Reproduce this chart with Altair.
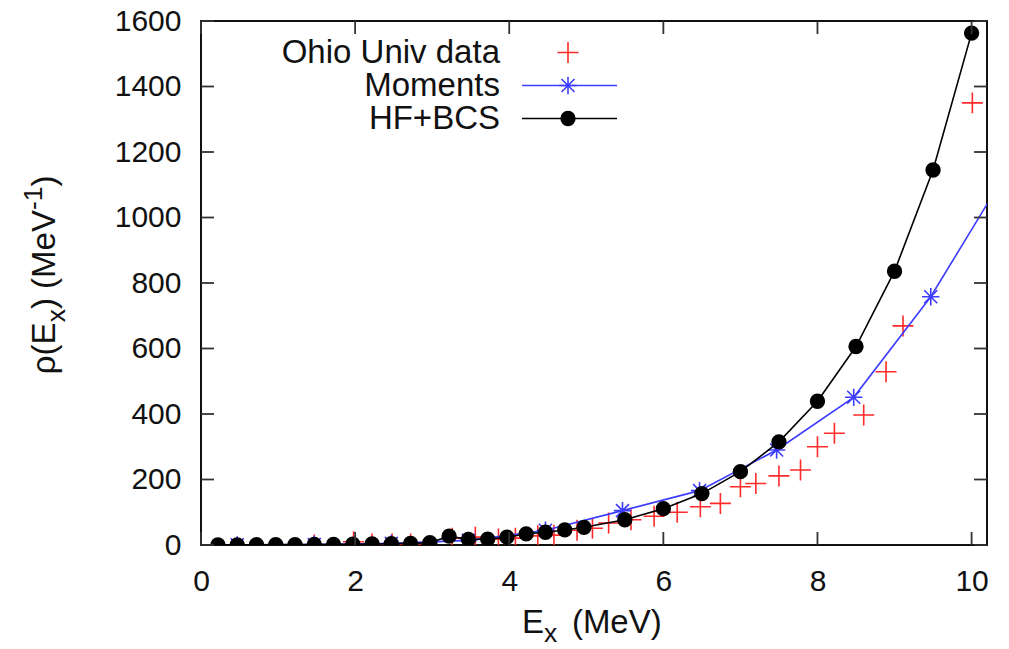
import altair as alt
import pandas as pd

# ---------------- data ----------------
hf_x = [0.22, 0.47, 0.72, 0.97, 1.22, 1.47, 1.72, 1.97, 2.22, 2.47, 2.72, 2.97,
        3.22, 3.47, 3.72, 3.97, 4.22, 4.47, 4.72, 4.97,
        5.5, 6.0, 6.5, 7.0, 7.5, 8.0, 8.5, 9.0, 9.5, 10.0]
hf_y = [0.3, 0.5, 0.7, 1, 1.2, 1.5, 2, 2.5, 3, 4, 5, 7,
        27, 17, 18, 24, 34, 39, 46, 54,
        77, 111, 157, 224, 315, 439, 606, 836, 1145, 1563]

mom_x = [0.47, 1.47, 2.47, 3.47, 4.47, 5.47, 6.47, 7.47, 8.47, 9.47, 10.47]
mom_y = [0.5, 1.5, 5, 14, 45, 105, 166, 290, 451, 758, 1145]

ohio_x = [1.47, 1.98, 2.22, 2.48, 2.72, 3.26, 3.56, 3.86, 4.08, 4.37, 4.58, 4.88,
          5.08, 5.29, 5.58, 5.88, 6.18, 6.48, 6.74, 7.0, 7.2, 7.5, 7.78, 8.0,
          8.22, 8.6, 8.89, 9.11, 10.01]
ohio_y = [0, 10, 3, 3, 3, 21, 24, 18, 21, 28, 30, 45,
          51, 67, 77, 88, 100, 117, 127, 178, 188, 211, 229, 300,
          341, 397, 529, 669, 1350]

x_ticks = [0, 2, 4, 6, 8, 10]
y_ticks = [0, 200, 400, 600, 800, 1000, 1200, 1400, 1600]

legend_names = ["Ohio Univ data", "Moments", "HF+BCS"]

# axis titles in gnuplot "enhanced text" pieces: (text, kind) kind: n=normal, sub, sup
NB = "\u00a0"
xtitle_parts = [("E", "n"), ("x", "sub"), (" (MeV)", "n")]
ytitle_parts = [("ρ(E", "n"), ("x", "sub"), (")" + NB + "(MeV", "n"), ("-1", "sup"), (")", "n")]

# ---------------- styling ----------------
W, H = 786, 524
FONT = "Liberation Sans"
FS = 30
FS_LEG = 33
FT = 33            # title font size
FSUB = 0.8 * FT    # sub/superscript size
RED = "#ff2a2a"
BLUE = "#3c3cff"
BLACK = "#000000"
TXT = "#111111"
PLUS = "M-1,0L1,0M0,-1L0,1"
STAR = "M-1,0L1,0M0,-1L0,1M-0.75,-0.75L0.75,0.75M-0.75,0.75L0.75,-0.75"

# approximate advance widths (em) of Liberation Sans glyphs, for laying out title pieces
ADV = {"ρ": 0.578, "(": 0.333, ")": 0.333, "E": 0.667, "x": 0.5, " ": 0.278, NB: 0.278,
       "M": 0.833, "e": 0.556, "V": 0.667, "-": 0.333, "1": 0.556}


def text_width(s, size):
    return sum(ADV.get(c, 0.556) for c in s) * size


xs = alt.Scale(domain=[0, 10.2], nice=False, zero=False)
ys = alt.Scale(domain=[0, 1600], nice=False)

hf = pd.DataFrame({"x": hf_x, "y": hf_y})
mom = pd.DataFrame({"x": mom_x, "y": mom_y})
ohio = pd.DataFrame({"x": ohio_x, "y": ohio_y})

xaxis = alt.Axis(values=x_ticks, format="d", title=None, grid=False, ticks=False, tickSize=0,
                 domain=False, labelPadding=21, labelFlush=False)
yaxis = alt.Axis(values=y_ticks, format="d", title=None, grid=False, ticks=False, tickSize=0,
                 domain=False, labelPadding=20)

ohio_pts = alt.Chart(ohio).mark_point(shape=PLUS, size=440, strokeWidth=1.6, color=RED,
                                      opacity=1, clip=True).encode(
    x=alt.X("x:Q", scale=xs, axis=xaxis),
    y=alt.Y("y:Q", scale=ys, axis=yaxis),
)

mom_line = alt.Chart(mom).mark_line(color=BLUE, strokeWidth=1.6, clip=True).encode(
    x=alt.X("x:Q", scale=xs), y=alt.Y("y:Q", scale=ys))
mom_pts = alt.Chart(mom).mark_point(shape=STAR, size=300, strokeWidth=1.6, color=BLUE,
                                    opacity=1, clip=True).encode(
    x=alt.X("x:Q", scale=xs), y=alt.Y("y:Q", scale=ys))

hf_line = alt.Chart(hf).mark_line(color=BLACK, strokeWidth=1.6, clip=True).encode(
    x=alt.X("x:Q", scale=xs), y=alt.Y("y:Q", scale=ys))
hf_pts = alt.Chart(hf).mark_circle(size=235, color=BLACK, opacity=1, clip=True).encode(
    x=alt.X("x:Q", scale=xs), y=alt.Y("y:Q", scale=ys))

# inward ticks (gnuplot style, mirrored)
ydf = pd.DataFrame({"v": y_ticks})
xdf = pd.DataFrame({"v": x_ticks})
TL = 13
yt_l = alt.Chart(ydf).mark_rule(color="#333333", strokeWidth=1.8).encode(
    y=alt.Y("v:Q", scale=ys), x=alt.value(0), x2=alt.value(TL))
yt_r = alt.Chart(ydf).mark_rule(color="#333333", strokeWidth=1.8).encode(
    y=alt.Y("v:Q", scale=ys), x=alt.value(W - TL), x2=alt.value(W))
xt_b = alt.Chart(xdf).mark_rule(color="#333333", strokeWidth=1.8).encode(
    x=alt.X("v:Q", scale=xs), y=alt.value(H - TL), y2=alt.value(H))
xt_t = alt.Chart(xdf).mark_rule(color="#333333", strokeWidth=1.8).encode(
    x=alt.X("v:Q", scale=xs), y=alt.value(0), y2=alt.value(TL))

one = pd.DataFrame({"k": [0]})


def split_lead(s):
    """leading blanks are collapsed by SVG: turn them into an advance instead"""
    stripped = s.lstrip(" " + NB)
    return s[:len(s) - len(stripped)], stripped


# ---- axis titles built from pieces (sub/superscripts) ----
titles = []
xt_x, xt_base = 321, 612
cur = xt_x
for s, kind in xtitle_parts:
    size = FT if kind == "n" else FSUB
    lead, body = split_lead(s)
    cur += text_width(lead, size) * 1.6
    dy = 0 if kind == "n" else (0.27 * FT if kind == "sub" else -0.4 * FT)
    titles.append(alt.Chart(one).mark_text(text=body, align="left", baseline="alphabetic",
                                           font=FONT, fontSize=size, color=TXT).encode(
        x=alt.value(cur), y=alt.value(xt_base + dy)))
    cur += text_width(body, size)

yt_base = -146
total = sum(text_width(s, FT if k == "n" else FSUB) for s, k in ytitle_parts)
cur = 262 + total / 2 - 8
for s, kind in ytitle_parts:
    size = FT if kind == "n" else FSUB
    dx = 0 if kind == "n" else (0.3 * FT if kind == "sub" else -0.4 * FT)
    titles.append(alt.Chart(one).mark_text(text=s, align="left", baseline="alphabetic",
                                           angle=270, font=FONT, fontSize=size, color=TXT).encode(
        x=alt.value(yt_base + dx), y=alt.value(cur)))
    cur -= text_width(s, size)

# ---- legend (gnuplot style: text right-aligned, sample on the right) ----
LX_TEXT = 299
LX0, LX1, LXM = 321, 416, 367
rows = [42, 75, 108]
leg = []
for name, yb in zip(legend_names, rows):
    leg.append(alt.Chart(one).mark_text(text=name, align="right", baseline="alphabetic",
                                        font=FONT, fontSize=FS_LEG, color=TXT).encode(
        x=alt.value(LX_TEXT), y=alt.value(yb)))
ymid = [r - 10.5 for r in rows]
leg.append(alt.Chart(one).mark_point(shape=PLUS, size=440, strokeWidth=1.6, color=RED, opacity=1).encode(
    x=alt.value(LXM), y=alt.value(ymid[0])))
leg.append(alt.Chart(one).mark_rule(color=BLUE, strokeWidth=1.6).encode(
    x=alt.value(LX0), x2=alt.value(LX1), y=alt.value(ymid[1])))
leg.append(alt.Chart(one).mark_point(shape=STAR, size=300, strokeWidth=1.6, color=BLUE, opacity=1).encode(
    x=alt.value(LXM), y=alt.value(ymid[1])))
leg.append(alt.Chart(one).mark_rule(color=BLACK, strokeWidth=1.6).encode(
    x=alt.value(LX0), x2=alt.value(LX1), y=alt.value(ymid[2])))
leg.append(alt.Chart(one).mark_circle(size=235, color=BLACK, opacity=1).encode(
    x=alt.value(LXM), y=alt.value(ymid[2])))

chart = alt.layer(
    ohio_pts, mom_line, mom_pts, hf_line, hf_pts,
    yt_l, yt_r, xt_b, xt_t, *titles, *leg
).properties(
    width=W, height=H,
    autosize=alt.AutoSizeParams(type="none"),
    padding={"left": 201, "top": 21, "right": 22, "bottom": 104},
    background="white",
).configure_view(
    stroke="#111111", strokeWidth=2
).configure_axis(
    labelFont=FONT, labelFontSize=FS, labelColor=TXT,
)

chart.save("out.html", embed_options={"renderer": "svg", "actions": False})
